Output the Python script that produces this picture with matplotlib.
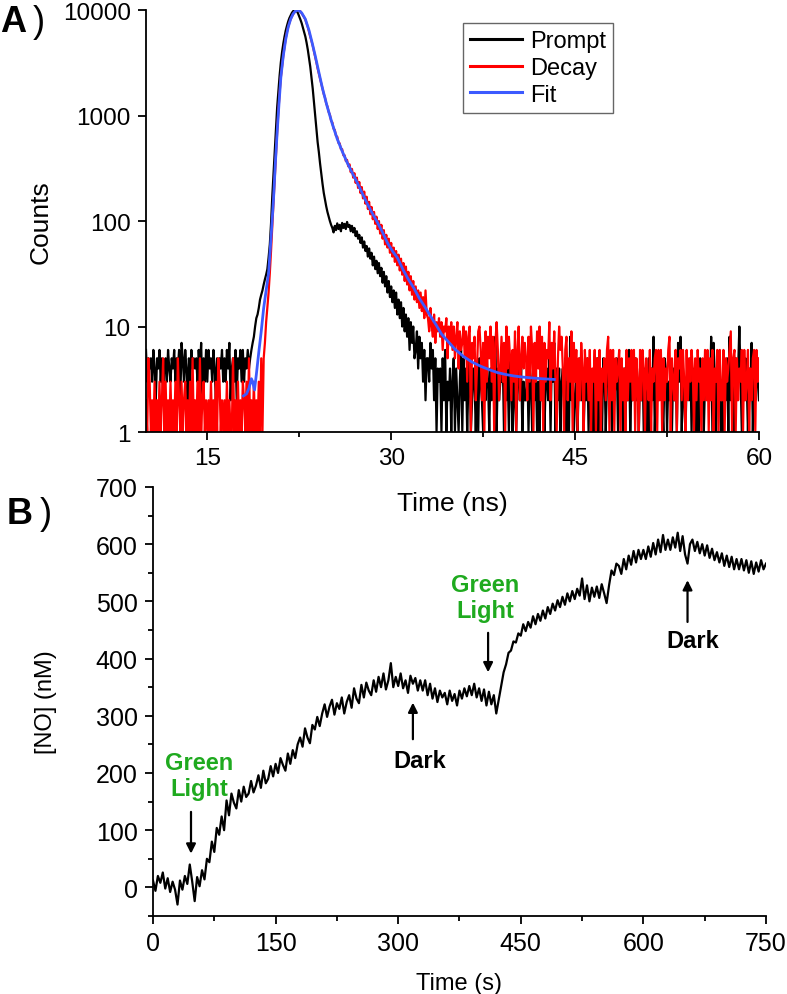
import numpy as np
import matplotlib
matplotlib.use("Agg")
import matplotlib.pyplot as plt
from matplotlib.ticker import FixedLocator, MultipleLocator, NullLocator

plt.rcParams['font.family'] = ['Liberation Sans', 'DejaVu Sans']

# ---------------- panel A data (TCSPC, 0.1 ns channels) ----------------
dt = 0.1
# low counts typed as hex digits, one character per channel
prompt_base_t0 = 10.0
prompt_base = ("6354536425" "4635245364" "3546354627" "5364253645" "4536472536"
               "3645364253" "5463536472" "4536254636" "35464")
prompt_peak_t0 = 18.5
prompt_peak = [5, 6, 7, 8, 10, 12, 13, 15, 18, 20,
               22, 25, 28, 31, 35, 45, 60, 95, 170, 280,
               450, 750, 1200, 1700, 2400, 3200, 4000, 4800, 5600, 6400,
               7100, 7800, 8400, 8900, 9400, 9750, 9950, 10000, 9800, 9300,
               8700, 8100, 7500, 6800, 6200, 5600, 4900, 4200, 3500, 2900,
               2300, 1800, 1350, 1000, 750, 560, 450, 350, 280, 225,
               185, 160, 138, 122, 110, 100, 92, 86, 78, 90,
               82, 95, 84, 92, 80, 96, 86, 94, 84, 98,
               88, 92, 80, 90, 78, 86, 72, 80, 68, 74,
               62, 70, 56, 64, 52, 58, 46, 55, 44, 50,
               38, 46, 35, 42, 32, 40, 30, 36, 26, 33,
               24, 30, 21, 27, 19, 24, 17, 22, 15, 21,
               13, 18, 12, 17, 10, 15, 9, 13, 8, 12,
               6, 11, 7, 10, 5]
prompt_tail_t0 = 32.0
prompt_tail = ("6948573625" "5374625143" "4152613241" "3514213615" "2413512431"
               "4153214253" "1425381423" "3514241531" "4213524132" "2514316241"
               "3142513425" "1537142413" "4251318241" "2413524132" "5142314251"
               "3215413624" "1423514231" "4152613245" "2314251431" "5142813524"
               "3215413241" "4251738142" "1342514231" "4152413524" "2817315241"
               "3142518243" "1524a31425" "3142714253" "2")

decay_base_t0 = 10.0
decay_base = ("2153121312" "1312513121" "3121315213" "1231213151" "2131512312"
              "1213121315" "3121213121" "1512131213" "2131512131" "2131515")
decay_peak_t0 = 19.7
decay_peak = [7, 11, 15, 21, 32, 52, 90, 150, 250, 420,
              700, 1100, 1650, 2300, 2950, 3700, 4500, 5400, 6200, 6900,
              7600, 8200, 8700, 9100, 9500, 9800, 9950, 10000, 9950, 9700,
              9300, 8900, 8550, 8100, 7500, 6900, 6200, 5600, 5100, 4600,
              4050, 3600, 3200, 2800, 2500, 2250, 2000, 1800, 1600, 1480,
              1300, 1220, 1080, 1020, 890, 860, 750, 730, 640, 630,
              550, 545, 480, 480, 420, 420, 370, 380, 330, 345,
              290, 312, 258, 284, 230, 258, 206, 234, 184, 210,
              164, 190, 146, 170, 130, 152, 116, 136, 104, 122,
              94, 110, 84, 100, 76, 92, 68, 82, 60, 74,
              56, 68, 50, 62, 46, 56, 41, 52, 38, 48,
              34, 44, 31, 40, 27, 37, 25, 33, 22, 30,
              20, 27, 18, 24, 17, 22, 15, 21, 14, 19,
              12, 22, 13]
decay_tail_t0 = 33.0
decay_tail = ("c9fa8d7b9c" "8b6a9c5a7b" "6a58b4967a" "5938a17582" "49a6271938"
              "5a3817b624" "8371a48526" "3916a25847" "5283a61739" "4a2817365b"
              "2749315a68" "4168253917" "3615274163" "5261436152" "6143526816"
              "2615346152" "4162536261" "5316264153" "2614356162" "6152436815"
              "3261546263" "1625364152" "6341526261" "5261436162" "2615346915"
              "6152436162" "3614256163" "5")

fit_t = [17.95, 18.2, 18.4, 18.6, 18.7, 18.85, 19.0, 19.2, 19.4, 19.6,
         19.8, 20.0, 20.2, 20.4, 20.55, 20.7, 20.85, 21.0, 21.2, 21.4,
         21.6, 21.8, 22.0, 22.2, 22.45, 22.7, 23.0, 23.3, 23.55, 23.8,
         24.1, 24.4, 24.77, 25.2, 25.6, 26.0, 26.4, 26.8, 27.2, 27.6,
         28.0, 28.4, 28.86, 29.3, 29.7, 30.1, 30.5, 31.0, 31.4, 31.86,
         32.3, 32.8, 33.2, 33.7, 34.1, 34.6, 35.2, 35.9, 36.6, 37.3,
         38.0, 38.7, 39.4, 40.0, 40.7, 41.4, 42.3, 43.3]
fit_counts = [2.2, 2.3, 2.6, 3.2, 3.0, 2.5, 3.5, 5.7, 9, 15,
              22, 32, 70, 160, 350, 700, 1300, 2300, 3700, 5300,
              6900, 8200, 9200, 9800, 10000, 9400, 8200, 6400, 4900, 3700,
              2570, 1800, 1230, 830, 600, 460, 360, 290, 235, 188,
              150, 122, 98, 78, 62, 52, 45, 34, 28, 23,
              18.5, 15, 12.6, 10.2, 8.5, 7.3, 6.1, 5.2, 4.6, 4.2,
              3.9, 3.65, 3.5, 3.4, 3.32, 3.26, 3.2, 3.15]

# ---------------- panel B data (3 s sampling) ----------------
no_t0 = 0
no_dt = 3
no_conc = [12, -6, 20, 8, 26, -2, 16, -8, 10, -4,
           -30, 12, -4, 20, 6, 40, 10, -24, 18, 2,
           30, 14, 50, 44, 80, 62, 104, 92, 124, 100,
           152, 126, 164, 148, 138, 170, 150, 176, 158, 164,
           186, 166, 178, 196, 174, 204, 182, 190, 212, 194,
           216, 200, 226, 214, 204, 234, 216, 240, 226, 250,
           262, 246, 278, 262, 252, 284, 276, 298, 282, 304,
           320, 298, 316, 328, 302, 322, 312, 332, 304, 324,
           336, 314, 348, 330, 322, 354, 332, 358, 344, 336,
           362, 342, 368, 350, 374, 346, 362, 392, 350, 368,
           352, 374, 348, 362, 340, 370, 356, 366, 344, 362,
           344, 362, 336, 356, 330, 348, 324, 344, 332, 340,
           320, 344, 326, 338, 318, 344, 330, 348, 334, 352,
           336, 356, 332, 348, 326, 346, 318, 342, 320, 336,
           304, 328, 352, 376, 390, 410, 414, 430, 428, 444,
           440, 460, 448, 464, 454, 474, 460, 478, 466, 484,
           470, 490, 478, 496, 484, 502, 490, 508, 494, 514,
           500, 518, 504, 522, 510, 540, 504, 528, 500, 524,
           508, 526, 506, 530, 514, 497, 528, 554, 546, 566,
           562, 548, 574, 556, 580, 564, 588, 568, 590, 574,
           590, 574, 596, 578, 602, 582, 608, 586, 616, 590,
           608, 590, 612, 594, 620, 588, 614, 582, 566, 600,
           608, 588, 604, 584, 600, 580, 598, 576, 592, 572,
           586, 568, 584, 562, 580, 560, 578, 556, 574, 556,
           574, 554, 572, 550, 570, 548, 568, 552, 572, 556, 566]

# annotations: (text, text x, text y, arrow x, arrow tail y, arrow tip y, colour)
notes = [("Green\nLight", 57, 195, 46.5, 132, 59, '#1faa1f'),
         ("Dark", 326, 221, 318, 259, 323, 'black'),
         ("Green\nLight", 406, 507, 410, 445, 376, '#1faa1f'),
         ("Dark", 660, 431, 654, 464, 537, 'black')]


def hexcounts(s):
    return [int(c, 16) for c in s]


def segments(*parts):
    ts, ys = [], []
    for t0, vals in parts:
        ts.append(t0 + dt * np.arange(len(vals)))
        ys.append(np.asarray(vals, dtype=float))
    return np.concatenate(ts), np.concatenate(ys)


prompt_t, prompt_y = segments((prompt_base_t0, hexcounts(prompt_base)),
                              (prompt_peak_t0, prompt_peak),
                              (prompt_tail_t0, hexcounts(prompt_tail)))
decay_t, decay_y = segments((decay_base_t0, hexcounts(decay_base)),
                            (decay_peak_t0, decay_peak),
                            (decay_tail_t0, hexcounts(decay_tail)))
prompt_y = np.clip(prompt_y, 1, None)
decay_y = np.clip(decay_y, 1, None)

fig = plt.figure(figsize=(7.87, 9.95), dpi=100)
ax1 = fig.add_axes([0.1855, 0.5648, 0.7789, 0.4241])
ax2 = fig.add_axes([0.1944, 0.0784, 0.7789, 0.4312])
ax2.patch.set_visible(False)

for ax in (ax1, ax2):
    for side in ('top', 'right'):
        ax.spines[side].set_visible(False)
    for side in ('left', 'bottom'):
        ax.spines[side].set_linewidth(1.3)
    ax.tick_params(which='major', direction='out', length=6, width=1.3, pad=5)
    ax.tick_params(which='minor', direction='out', length=3.5, width=1.3)

# ---- panel A ----
ax1.plot(prompt_t, prompt_y, color='black', lw=1.6, label='Prompt')
ax1.plot(decay_t, decay_y, color='#ff0000', lw=1.6, label='Decay')
ax1.plot(fit_t, fit_counts, color='#3c5aff', lw=2.0, label='Fit')
ax1.set_yscale('log')
ax1.set_xlim(10, 60)
ax1.set_ylim(1, 10000)
ax1.xaxis.set_major_locator(FixedLocator([15, 30, 45, 60]))
ax1.xaxis.set_minor_locator(FixedLocator([22.5, 37.5, 52.5]))
ax1.yaxis.set_major_locator(FixedLocator([1, 10, 100, 1000, 10000]))
ax1.yaxis.set_minor_locator(NullLocator())
ax1.set_yticklabels(['1', '10', '100', '1000', '10000'])
ax1.tick_params(labelsize=17.5)
ax1.set_xlabel('Time (ns)', fontsize=19)
ax1.set_ylabel('Counts', fontsize=19)
ax1.xaxis.set_label_coords(0.5, -0.14)
ax1.yaxis.set_label_coords(-0.153, 0.5)
leg = ax1.legend(loc='upper left', bbox_to_anchor=(0.517, 0.969), borderaxespad=0,
                 fontsize=17, handlelength=2.2, handletextpad=0.35, labelspacing=0.2,
                 borderpad=0.3, fancybox=False, framealpha=1)
leg.get_frame().set_edgecolor('#666666')
leg.get_frame().set_linewidth(1.0)
for line in leg.get_lines():
    line.set_linewidth(2.2)

# ---- panel B ----
no_t = no_t0 + no_dt * np.arange(len(no_conc))
ax2.plot(no_t, no_conc, color='black', lw=1.6)
ax2.set_xlim(0, 750)
ax2.set_ylim(-50, 700)
ax2.xaxis.set_major_locator(MultipleLocator(150))
ax2.xaxis.set_minor_locator(MultipleLocator(75))
ax2.yaxis.set_major_locator(FixedLocator([0, 100, 200, 300, 400, 500, 600, 700]))
ax2.yaxis.set_minor_locator(FixedLocator([-50, 50, 150, 250, 350, 450, 550, 650]))
ax2.tick_params(labelsize=18)
ax2.set_xlabel('Time (s)', fontsize=17)
ax2.set_ylabel('[NO] (nM)', fontsize=17)
ax2.xaxis.set_label_coords(0.5, -0.13)
ax2.yaxis.set_label_coords(-0.157, 0.5)

for text, tx, ty, ax_, tail, tip, col in notes:
    ax2.text(tx, ty, text, color=col, fontsize=17, fontweight='bold',
             ha='center', va='center', linespacing=1.15)
    ax2.annotate('', xy=(ax_, tip), xytext=(ax_, tail),
                 arrowprops=dict(arrowstyle='-|>', color='black', lw=1.6,
                                 mutation_scale=14, shrinkA=0, shrinkB=0))

# panel letters
fig.text(0.0, 1 - 22 / 995, 'A', fontsize=26, fontweight='bold', va='center', ha='left')
fig.text(0.041, 1 - 22 / 995, ')', fontsize=26, va='center', ha='left')
fig.text(0.009, 1 - 514 / 995, 'B', fontsize=26, fontweight='bold', va='center', ha='left')
fig.text(0.050, 1 - 514 / 995, ')', fontsize=26, va='center', ha='left')

fig.savefig('out.png', dpi=100)
